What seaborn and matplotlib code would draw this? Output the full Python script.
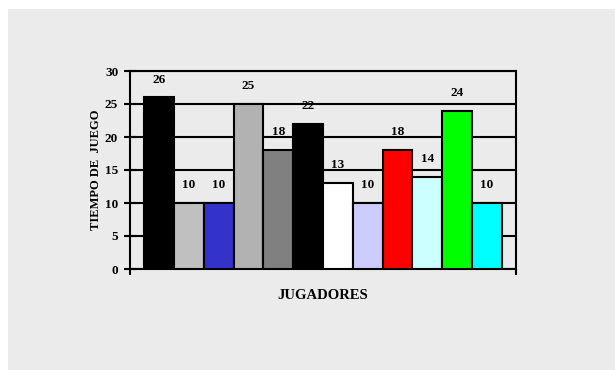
import matplotlib
matplotlib.use("Agg")
import matplotlib.pyplot as plt
import seaborn as sns
import pandas as pd
from matplotlib.patches import Rectangle

# Datos del grafico
jugadores = ["J1", "J2", "J3", "J4", "J5", "J6", "J7", "J8", "J9", "J10", "J11", "J12"]
tiempo = [26, 10, 10, 25, 18, 22, 13, 10, 18, 14, 24, 10]
colores = ["#000000", "#c0c0c0", "#3333cc", "#b2b2b2", "#808080", "#000000",
           "#ffffff", "#ccccff", "#ff0000", "#ccffff", "#00ff00", "#00ffff"]
y_ticks = [0, 5, 10, 15, 20, 25, 30]

df = pd.DataFrame({"jugador": jugadores, "tiempo": tiempo})

sns.set_style("white")
plt.rcParams["font.family"] = ["Liberation Serif", "DejaVu Serif"]
plt.rcParams["font.weight"] = "bold"
plt.rcParams["text.color"] = "black"
plt.rcParams["axes.labelcolor"] = "black"
plt.rcParams["xtick.color"] = "black"
plt.rcParams["ytick.color"] = "black"

fig = plt.figure(figsize=(6.15, 3.7), dpi=100, facecolor="white")
# recuadro gris de fondo
fig.patches.append(Rectangle((8 / 615, 0), 1, 1 - 9 / 370, transform=fig.transFigure,
                             facecolor="#ebebeb", edgecolor="none", zorder=-10))

ax = fig.add_axes([130 / 615, 1 - 269 / 370, 386 / 615, 198 / 370])
ax.set_facecolor("#ebebeb")

sns.barplot(data=df, x="jugador", y="tiempo", hue="jugador", palette=colores,
            saturation=1, width=1.0, edgecolor="black", linewidth=1.5,
            legend=False, ax=ax, zorder=3)

for i, v in enumerate(tiempo):
    ax.text(i, v + 2.7, str(v), ha="center", va="center", fontsize=9.5,
            fontweight="bold", zorder=4)

ax.set_ylim(0, 30)
ax.set_xlim(-0.97, 11.97)
ax.set_yticks(y_ticks)
ax.set_yticklabels([str(t) for t in y_ticks], fontsize=9.5, fontweight="bold")
ax.yaxis.grid(True, color="black", linewidth=1.5, zorder=1)
ax.set_axisbelow(True)

ax.set_xticks([-0.97, 11.97])
ax.set_xticklabels(["", ""])
ax.tick_params(axis="x", bottom=True, direction="out", length=4, width=1.5)
ax.tick_params(axis="y", left=True, direction="inout", length=9, width=1.5, pad=4)

for s in ax.spines.values():
    s.set_visible(True)
    s.set_color("black")
    s.set_linewidth(1.5)

ax.set_xlabel("JUGADORES", fontsize=10.5, fontweight="bold", labelpad=7)
ax.set_ylabel("TIEMPO DE  JUEGO", fontsize=9, fontweight="bold", labelpad=2)

fig.savefig("out.png", dpi=100, facecolor="white")
